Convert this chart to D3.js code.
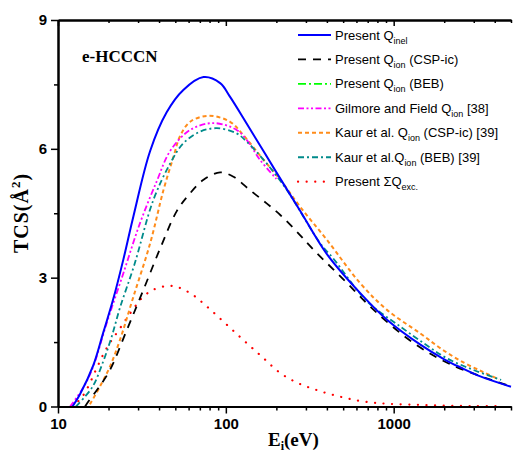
<!DOCTYPE html>
<html>
<head>
<meta charset="utf-8">
<script src="https://cdn.jsdelivr.net/npm/d3@7"></script>
<style>
  body { margin: 0; background: #fff; }
  svg { display: block; }
  .tick text { font-family: Arial, "Liberation Sans", sans-serif; font-weight: bold; }
  .legend text { font-family: Arial, "Liberation Sans", sans-serif; font-size: 13px; }
</style>
</head>
<body>
<svg></svg>
<script>
// Present Q_inel
let energyInel = [12.2, 13.5, 16.2, 18.6, 21.4, 24.5, 28.1, 35.4, 44.4, 55.8, 73.6, 92.5, 106, 133, 201, 277, 400, 632, 912, 1442, 2000, 2500, 3284, 5000];
let qInel = [0, 0.28, 0.95, 1.72, 2.52, 3.42, 4.42, 5.95, 6.85, 7.37, 7.67, 7.53, 7.21, 6.59, 5.44, 4.56, 3.55, 2.64, 2.02, 1.44, 1.1, 0.91, 0.7, 0.46];

// Present Q_ion (CSP-ic)
let energyIonCsp = [14.5, 15.2, 17.4, 20.4, 25.7, 32.3, 40.6, 51, 59.9, 73.6, 92.5, 111, 139, 175, 211, 265, 333, 505, 760, 1312, 2268, 5000];
let qIonCsp = [0, 0.12, 0.43, 0.85, 1.78, 2.72, 3.68, 4.55, 4.92, 5.28, 5.45, 5.35, 5.04, 4.73, 4.46, 4.07, 3.65, 2.95, 2.25, 1.48, 0.95, 0.47];

// Gilmore and Field Q_ion [38]
let energyGilmore = [11.8, 14.2, 16.2, 19.5, 24.5, 30.8, 38.8, 46.6, 61.3, 84.4, 116, 133, 160, 200];
let qGilmore = [0, 0.45, 0.93, 1.94, 3.1, 4.27, 5.25, 5.95, 6.44, 6.6, 6.44, 6.21, 5.74, 5.3];

// Kaur et al. Q_ion (CSP-ic) [39]
let energyKaurCsp = [15.5, 17.8, 20.4, 23.4, 28.1, 35.4, 42.5, 48.8, 53.4, 61.3, 78.9, 106, 127, 168, 211, 277, 400, 632, 912, 1442, 1941, 2620, 3425, 4240];
let qKaurCsp = [0.05, 0.47, 0.93, 1.55, 2.55, 3.8, 5.04, 5.82, 6.3, 6.63, 6.77, 6.63, 6.32, 5.74, 5.28, 4.65, 3.88, 2.87, 2.25, 1.7, 1.33, 1.02, 0.8, 0.63];

// Kaur et al. Q_ion (BEB) [39]
let energyKaurBeb = [12.8, 16, 18.6, 20.9, 23.4, 28.5, 37, 46.6, 55.8, 70.1, 88.5, 116, 133, 175, 231, 365, 436, 694, 1096, 1581, 2080, 2994, 4366];
let qKaurBeb = [0, 0.45, 1.05, 1.63, 2.3, 3.3, 4.81, 5.66, 6.13, 6.4, 6.48, 6.36, 6.17, 5.66, 5.04, 3.8, 3.45, 2.45, 1.86, 1.42, 1.12, 0.85, 0.62];

// Present sum Q_exc
let energyExc = [12, 13.5, 14.8, 17, 19.5, 23.4, 28.8, 32.3, 37, 47.6, 61.3, 77, 99, 127, 164, 211, 271, 349, 456, 590, 759, 952, 1377, 2000, 3000, 4300];
let qExc = [0, 0.16, 0.39, 0.89, 1.36, 1.82, 2.33, 2.56, 2.72, 2.81, 2.64, 2.33, 1.94, 1.55, 1.16, 0.78, 0.54, 0.38, 0.25, 0.15, 0.09, 0.06, 0.04, 0.02, 0.01, 0.01];

let xMajorTicks = [10, 100, 1000];
let xMinorTicks = [20, 30, 40, 50, 60, 70, 80, 90, 200, 300, 400, 500, 600, 700, 800, 900, 2000, 3000, 4000, 5000];
let yMajorTicks = [0, 3, 6, 9];
let yMinorTicks = [1.5, 4.5, 7.5];

let width = 522;
let height = 453;
let plotLeft = 58;
let plotRight = 511;
let plotTop = 20;
let plotBottom = 406.5;

let xScale;
let yScale;

let svg = d3.select("svg");

let series = [
  { name: "Present Q", sub: "inel", tail: "", e: energyInel, q: qInel, color: "#0000ff", dash: null, w: 2 },
  { name: "Present Q", sub: "ion", tail: " (CSP-ic)", e: energyIonCsp, q: qIonCsp, color: "#000000", dash: "8,7", w: 1.8 },
  { name: "Present Q", sub: "ion", tail: " (BEB)", e: null, q: null, color: "#00ff00", dash: "8,3,2,3", w: 1.8 },
  { name: "Gilmore and Field Q", sub: "ion", tail: " [38]", e: energyGilmore, q: qGilmore, color: "#ff00ff", dash: "6,2.5,2,2.5,2,2.5", w: 1.8 },
  { name: "Kaur et al. Q", sub: "ion", tail: " (CSP-ic) [39]", e: energyKaurCsp, q: qKaurCsp, color: "#ff8c1a", dash: "4,3", w: 2 },
  { name: "Kaur et al.Q", sub: "ion", tail: " (BEB) [39]", e: energyKaurBeb, q: qKaurBeb, color: "#008b8b", dash: "6,3,2,3", w: 1.8 },
  { name: "Present \u03a3Q", sub: "exc.", tail: "", e: energyExc, q: qExc, color: "#ff0000", dash: "0.1,8.5", w: 2.2, cap: "round" }
];

function drawCanvas() {
  svg.attr("width", width).attr("height", height);
}

function generateScales() {
  xScale = d3.scaleLog().domain([10, 5000]).range([plotLeft, plotRight]);
  yScale = d3.scaleLinear().domain([0, 9]).range([plotBottom, plotTop]);
}

function drawLines() {
  let line = d3
    .line()
    .x((d) => xScale(d[0]))
    .y((d) => yScale(d[1]))
    .curve(d3.curveCatmullRom.alpha(0.5));

  // draw from the back: exc, kaur csp, gilmore, kaur beb, ion csp, inel
  let order = [6, 4, 3, 5, 1, 0];
  order.forEach((i) => {
    let s = series[i];
    let pts = s.e.map((e, k) => [e, s.q[k]]);
    svg
      .append("path")
      .datum(pts)
      .attr("fill", "none")
      .attr("stroke", s.color)
      .attr("stroke-width", s.w)
      .attr("stroke-dasharray", s.dash)
      .attr("stroke-linecap", s.cap || "butt")
      .attr("d", line);
  });
}

function generateAxes() {
  let xAxis = d3.axisBottom(xScale).tickValues(xMajorTicks).tickFormat(d3.format("d")).tickSize(7).tickSizeOuter(0).tickPadding(5);
  let xAxisMinor = d3.axisBottom(xScale).tickValues(xMinorTicks).tickFormat("").tickSize(4).tickSizeOuter(0);

  let gx = svg.append("g").attr("transform", `translate(0, ${plotBottom})`).call(xAxis);
  gx.selectAll("text").style("font-size", "15px");
  svg.append("g").attr("transform", `translate(0, ${plotBottom})`).call(xAxisMinor);

  let xTop = d3.axisTop(xScale).tickValues(xMajorTicks).tickFormat("").tickSize(-6).tickSizeOuter(0);
  let xTopMinor = d3.axisTop(xScale).tickValues(xMinorTicks).tickFormat("").tickSize(-3).tickSizeOuter(0);
  svg.append("g").attr("transform", `translate(0, ${plotTop})`).call(xTop);
  svg.append("g").attr("transform", `translate(0, ${plotTop})`).call(xTopMinor);

  let yAxis = d3.axisLeft(yScale).tickValues(yMajorTicks).tickSize(7).tickSizeOuter(0).tickPadding(4);
  let yAxisMinor = d3.axisLeft(yScale).tickValues(yMinorTicks).tickFormat("").tickSize(4).tickSizeOuter(0);
  let gy = svg.append("g").attr("transform", `translate(${plotLeft}, 0)`).call(yAxis);
  gy.selectAll("text").style("font-size", "15px");
  svg.append("g").attr("transform", `translate(${plotLeft}, 0)`).call(yAxisMinor);

  svg.selectAll(".domain").attr("stroke-width", 2);
  svg.selectAll(".tick line").attr("stroke-width", 1.5);

  // axis titles
  let xl = svg
    .append("text")
    .attr("x", 268)
    .attr("y", 446)
    .style("font-family", "'Times New Roman', 'Liberation Serif', serif")
    .style("font-weight", "bold")
    .style("font-size", "19px");
  xl.append("tspan").text("E");
  xl.append("tspan").attr("dy", 4).style("font-size", "12px").text("i");
  xl.append("tspan").attr("dy", -4).text("(eV)");

  let yl = svg
    .append("text")
    .attr("transform", "translate(28, 213) rotate(-90)")
    .attr("text-anchor", "middle")
    .style("font-family", "'Times New Roman', 'Liberation Serif', serif")
    .style("font-weight", "bold")
    .style("font-size", "20px")
    .style("letter-spacing", "1px");
  yl.append("tspan").text("TCS(\u00c5");
  yl.append("tspan").attr("dy", -8).style("font-size", "13px").text("2");
  yl.append("tspan").attr("dy", 8).text(")");

  svg
    .append("text")
    .attr("x", 82)
    .attr("y", 62)
    .style("font-family", "'Times New Roman', 'Liberation Serif', serif")
    .style("font-weight", "bold")
    .style("font-size", "17px")
    .text("e-HCCCN");
}

function drawLegend() {
  let g = svg.append("g").attr("class", "legend");
  series.forEach((s, i) => {
    let y = 35 + i * 24.45;
    g.append("line")
      .attr("x1", 298)
      .attr("x2", 331)
      .attr("y1", y)
      .attr("y2", y)
      .attr("stroke", s.color)
      .attr("stroke-width", s.w)
      .attr("stroke-dasharray", s.dash)
      .attr("stroke-linecap", s.cap || "butt");
    let t = g.append("text").attr("x", 335).attr("y", y + 4.5);
    t.append("tspan").text(s.name);
    t.append("tspan").attr("dy", 4).style("font-size", "9px").text(s.sub);
    t.append("tspan").attr("dy", -4).text(s.tail);
  });
}

drawCanvas();
generateScales();
drawLines();
generateAxes();
drawLegend();
</script>
</body>
</html>
